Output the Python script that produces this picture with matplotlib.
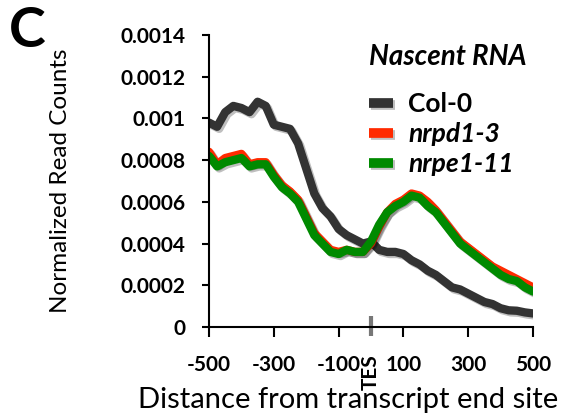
import numpy as np
import matplotlib
matplotlib.use("Agg")
from matplotlib import pyplot as plt
import matplotlib.patheffects as pe

# distance from TES (bp)
positions = list(range(-500, 501, 25))

col0 = [0.00098, 0.00096, 0.00103, 0.00106, 0.00105, 0.00103, 0.00108, 0.00106,
        0.00097, 0.00096, 0.00095, 0.00088, 0.00076, 0.00064, 0.00057, 0.00053,
        0.00047, 0.00044, 0.00042, 0.00040, 0.00041, 0.00037, 0.00036, 0.00036,
        0.00035, 0.00032, 0.00030, 0.00027, 0.00025, 0.00022, 0.00019, 0.00018,
        0.00016, 0.00014, 0.00012, 0.00011, 0.00009, 0.00008, 0.000078, 0.00007,
        0.000065]

nrpd1 = [0.00084, 0.00078, 0.00081, 0.00082, 0.00083, 0.00078, 0.00079, 0.00079,
         0.00073, 0.00068, 0.00065, 0.00061, 0.00053, 0.00045, 0.00041, 0.00037,
         0.00036, 0.00037, 0.00036, 0.00036, 0.00040, 0.00048, 0.00055, 0.00059,
         0.00061, 0.00064, 0.00063, 0.00060, 0.00056, 0.00051, 0.00046, 0.00041,
         0.00038, 0.00035, 0.00032, 0.00029, 0.00027, 0.00025, 0.00023, 0.00021,
         0.00019]

nrpe1 = [0.00082, 0.00077, 0.00079, 0.00080, 0.00081, 0.00077, 0.00078, 0.00078,
         0.00072, 0.00067, 0.00064, 0.00060, 0.00052, 0.00044, 0.00040, 0.00036,
         0.00035, 0.00037, 0.00036, 0.00036, 0.00041, 0.00049, 0.00055, 0.00058,
         0.00060, 0.00063, 0.00062, 0.00058, 0.00055, 0.00050, 0.00045, 0.00040,
         0.00037, 0.00034, 0.00031, 0.00028, 0.00025, 0.00023, 0.00022, 0.00019,
         0.00017]

series_labels = ["Col-0", "nrpd1-3", "nrpe1-11"]
xticks = [-500, -300, -100, 100, 300, 500]
yticks = [0, 0.0002, 0.0004, 0.0006, 0.0008, 0.001, 0.0012, 0.0014]
ytick_labels = ["0", "0.0002", "0.0004", "0.0006", "0.0008", "0.001", "0.0012", "0.0014"]

plt.rcParams['font.family'] = ['Lato', 'DejaVu Sans']

W, H = 563, 417
fig = plt.figure(figsize=(W / 100, H / 100), dpi=100)
ax = fig.add_axes([209 / W, 1 - 327 / H, (533 - 209) / W, (327 - 35) / H])

shadow = [pe.SimpleLineShadow(offset=(1.5, -1.5), alpha=0.25, shadow_color='black'),
          pe.Normal()]

ax.plot(positions, col0, color='#333333', lw=6, label=series_labels[0],
        solid_capstyle='round', path_effects=shadow)
ax.plot(positions, nrpd1, color='#ff2a00', lw=6, label=series_labels[1],
        solid_capstyle='round', path_effects=shadow)
ax.plot(positions, nrpe1, color='#008a00', lw=6, label=series_labels[2],
        solid_capstyle='round', path_effects=shadow)

ax.set_xlim(-500, 500)
ax.set_ylim(0, 0.0014)
ax.set_xticks(xticks)
ax.set_xticklabels([str(t) for t in xticks], fontweight='bold', fontsize=15)
ax.set_yticks(yticks)
ax.set_yticklabels(ytick_labels, fontweight='bold', fontsize=15)

for s in ['top', 'right']:
    ax.spines[s].set_visible(False)
for s in ['left', 'bottom']:
    ax.spines[s].set_linewidth(1.5)
ax.tick_params(axis='y', direction='out', length=5, width=1.5, pad=12)
ax.tick_params(axis='x', direction='out', length=7, width=1.5, pad=13)

ax.set_xlabel('Distance from transcript end site', fontsize=21)
ax.set_ylabel('Normalized Read Counts', fontsize=17.5)
ax.xaxis.set_label_coords(0.43, -0.205)
ax.yaxis.set_label_coords(-0.425, 0.5)

# TES marker
ax.plot([0, 0], [-0.000043, 0.000053], color='#777777', lw=3, clip_on=False,
        solid_capstyle='butt')
ax.text(0, -0.000215, 'TES', rotation=90, ha='center', va='center',
        fontweight='bold', fontsize=15, clip_on=False)

leg = ax.legend(loc='upper left', bbox_to_anchor=(0.42, 1.05), frameon=False,
                handlelength=0.9, handletextpad=0.6, labelspacing=0.22,
                alignment='left',
                prop={'size': 19, 'weight': 'bold'})
leg.set_title('Nascent RNA', prop={'size': 20, 'weight': 'bold', 'style': 'italic'})
leg._legend_box.sep = 16
for i, t in enumerate(leg.get_texts()):
    if i > 0:
        t.set_style('italic')
for h in leg.get_lines():
    h.set_linewidth(7)
    h.set_solid_capstyle('butt')

fig.text(9 / W, 1 - 31 / H, 'C', fontsize=40, fontweight='bold', va='center', ha='left')

fig.savefig('out.png', dpi=100)
